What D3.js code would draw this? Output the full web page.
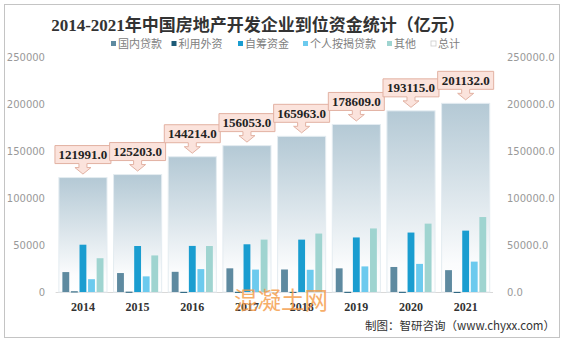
<!DOCTYPE html>
<html>
<head>
<meta charset="utf-8">
<script src="https://cdn.jsdelivr.net/npm/d3@7"></script>
<style>
  body { margin: 0; background: #fff; }
  svg { display: block; }
</style>
</head>
<body>
<div id="chart"></div>
<script>
// Data (亿元)
var years = ["2014", "2015", "2016", "2017", "2018", "2019", "2020", "2021"]
var seriesNames = ["国内贷款", "利用外资", "自筹资金", "个人按揭贷款", "其他"]
var domesticLoans = [21243, 20214, 21512, 25242, 24005, 25229, 26676, 23296]
var foreignCapital = [639, 297, 140, 168, 108, 176, 192, 107]
var selfRaised = [50420, 49038, 49133, 50872, 55831, 58158, 63377, 65428]
var mortgage = [13665, 16662, 24403, 23906, 23706, 27281, 29976, 32388]
var others = [36024, 38992, 49026, 55865, 62313, 67765, 72894, 79913]
var totals = [121991, 125203, 144214, 156053, 165963, 178609, 193115, 201132]
var yTicks = [0, 50000, 100000, 150000, 200000, 250000]

var seriesValues = [domesticLoans, foreignCapital, selfRaised, mortgage, others]
var colors = ["#5e8aa0", "#1d5a77", "#1a9dd0", "#6ccaee", "#9fd4d0"]

var width = 563
var height = 342

var svg = d3.select("#chart")
            .append("svg")
            .attr("width", width)
            .attr("height", height)

var defs = svg.append("defs")
var grad = defs.append("linearGradient")
  .attr("id", "totalGrad")
  .attr("x1", 0).attr("y1", 0).attr("x2", 0).attr("y2", 1)
grad.append("stop").attr("offset", "0%").attr("stop-color", "#b4c9d5")
grad.append("stop").attr("offset", "85%").attr("stop-color", "#fbfcfd")
grad.append("stop").attr("offset", "100%").attr("stop-color", "#ffffff")

// Frame
svg.append("rect")
  .attr("x", 4.5).attr("y", 4.5)
  .attr("width", 555).attr("height", 333)
  .attr("fill", "none")
  .attr("stroke", "#c4c4c4")

// Scales
var xscale = d3.scaleBand()
  .domain(years)
  .range([55.6, 493])
  .paddingInner(0.12)
  .paddingOuter(0.06)

var yscale = d3.scaleLinear()
  .domain([0, 250000])
  .range([292, 57.5])

var inner = d3.scaleBand()
  .domain(seriesNames)
  .range([3.5, xscale.bandwidth() - 3.5])
  .paddingInner(0.2)

// Title
svg.append("text")
  .attr("x", 258)
  .attr("y", 31)
  .attr("text-anchor", "middle")
  .style("font-family", "'Liberation Serif', 'Noto Sans CJK SC', serif")
  .style("font-weight", "bold")
  .style("font-size", "17px")
  .style("fill", "#333")
  .text("2014-2021年中国房地产开发企业到位资金统计（亿元）")

// Legend
var legendItems = seriesNames.concat(["总计"])
var legendX = [111, 171.5, 238, 303, 387, 431]
var legend = svg.selectAll(".legend")
  .data(legendItems)
  .enter()
  .append("g")
  .attr("class", "legend")
  .attr("transform", function(d, i){ return "translate(" + legendX[i] + ",44)" })

legend.append("rect")
  .attr("x", 0).attr("y", -3)
  .attr("width", 5).attr("height", 5)
  .attr("fill", function(d, i){ return i < 5 ? colors[i] : "#fff" })
  .attr("stroke", function(d, i){ return i < 5 ? "none" : "#ccc" })
  .attr("stroke-width", 0.8)

legend.append("text")
  .attr("x", 7)
  .attr("y", 4)
  .style("font-family", "'Noto Sans CJK SC', sans-serif")
  .style("font-size", "11px")
  .style("fill", "#808080")
  .text(function(d){ return d })

// Axes
var yaxisLeft = d3.axisLeft(yscale).tickValues(yTicks).tickSize(0).tickPadding(0)
  .tickFormat(d3.format("d"))
svg.append("g")
  .attr("class", "y axis left")
  .attr("transform", "translate(45,0)")
  .call(yaxisLeft)

var yaxisRight = d3.axisRight(yscale).tickValues(yTicks).tickSize(0).tickPadding(0)
  .tickFormat(d3.format(".1f"))
svg.append("g")
  .attr("class", "y axis right")
  .attr("transform", "translate(507,0)")
  .call(yaxisRight)

svg.selectAll(".y.axis path").remove()
svg.selectAll(".y.axis text")
  .style("font-family", "'DejaVu Sans', sans-serif")
  .style("font-size", "10px")
  .style("fill", "#999")

// Baseline
svg.append("line")
  .attr("x1", 55.6).attr("x2", 493)
  .attr("y1", yscale(0) + 0.5).attr("y2", yscale(0) + 0.5)
  .attr("stroke", "#d9d9d9")

// Total bars
svg.selectAll(".total")
  .data(years)
  .enter()
  .append("rect")
  .attr("class", "total")
  .attr("x", function(d){ return xscale(d) })
  .attr("y", function(d, i){ return yscale(totals[i]) })
  .attr("width", xscale.bandwidth())
  .attr("height", function(d, i){ return yscale(0) - yscale(totals[i]) })
  .attr("fill", "url(#totalGrad)")
  .attr("stroke", "#e4ecf1")
  .attr("stroke-width", 1)

// Series bars
var groups = svg.selectAll(".year")
  .data(years)
  .enter()
  .append("g")
  .attr("class", "year")
  .attr("transform", function(d){ return "translate(" + xscale(d) + ",0)" })

groups.selectAll("rect")
  .data(function(d, i){
    return seriesNames.map(function(s, j){ return {name: s, value: seriesValues[j][i], idx: j} })
  })
  .enter()
  .append("rect")
  .attr("x", function(d){ return inner(d.name) })
  .attr("y", function(d){ return yscale(d.value) })
  .attr("width", inner.bandwidth())
  .attr("height", function(d){ return Math.max(1, yscale(0) - yscale(d.value)) })
  .attr("fill", function(d){ return colors[d.idx] })

// Callout labels
var boxW = 56, boxH = 18
var callouts = svg.selectAll(".callout")
  .data(years)
  .enter()
  .append("g")
  .attr("class", "callout")
  .attr("transform", function(d, i){
    return "translate(" + (xscale(d) + xscale.bandwidth() / 2) + "," + yscale(totals[i]) + ")"
  })

callouts.append("path")
  .attr("d", function(){
    var l = -boxW / 2, r = boxW / 2, t = -32, b = t + boxH
    return "M" + l + "," + t + "H" + r + "V" + b + "H4V" + (b + 4) + "H8L0,-3.5L-8," + (b + 4) +
      "H-4V" + b + "H" + l + "Z"
  })
  .attr("fill", "#fbe3dc")
  .attr("stroke", "#e2b1a2")
  .attr("stroke-width", 1)

callouts.append("text")
  .attr("x", 0)
  .attr("y", -18.5)
  .attr("text-anchor", "middle")
  .style("font-family", "'Liberation Serif', serif")
  .style("font-weight", "bold")
  .style("font-size", "13px")
  .style("fill", "#222")
  .text(function(d, i){ return d3.format(".1f")(totals[i]) })

// X labels
svg.selectAll(".xlabel")
  .data(years)
  .enter()
  .append("text")
  .attr("class", "xlabel")
  .attr("x", function(d){ return xscale(d) + xscale.bandwidth() / 2 })
  .attr("y", 311)
  .attr("text-anchor", "middle")
  .style("font-family", "'Liberation Serif', serif")
  .style("font-weight", "bold")
  .style("font-size", "12px")
  .style("fill", "#333")
  .text(function(d){ return d })

// Watermark (overlaps the axis labels, as in the source image)
svg.append("text")
  .attr("x", 234)
  .attr("y", 309)
  .style("font-family", "'Noto Sans CJK SC', sans-serif")
  .style("font-size", "23.5px")
  .style("fill", "#f59a45")
  .style("opacity", 0.8)
  .text("混凝土网")

// Source
svg.append("text")
  .attr("x", 555)
  .attr("y", 330)
  .attr("text-anchor", "end")
  .style("font-family", "'Noto Sans CJK SC', sans-serif")
  .style("font-size", "11.5px")
  .style("fill", "#333")
  .text("制图：智研咨询（www.chyxx.com）")
</script>
</body>
</html>
